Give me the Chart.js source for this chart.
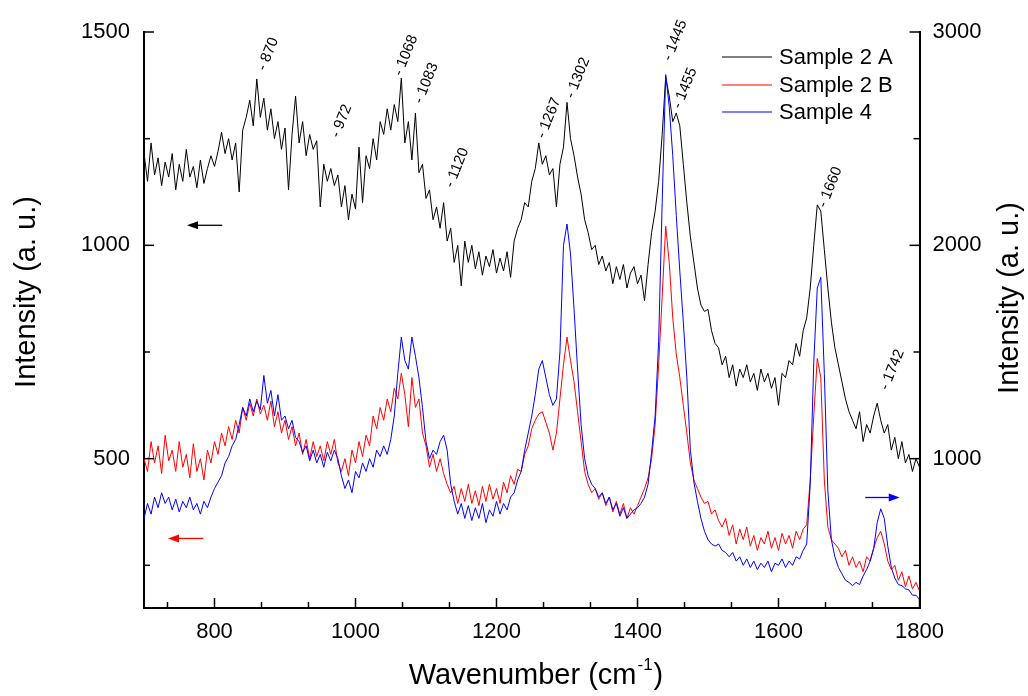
<!DOCTYPE html>
<html>
<head>
<meta charset="utf-8">
<script src="https://cdn.jsdelivr.net/npm/chart.js@4.4.1/dist/chart.umd.min.js"></script>
<style>
  body { margin: 0; background: #fff; }
  canvas { display: block; }
</style>
</head>
<body>
<canvas id="chart" width="1028" height="696" style="width:1028px;height:696px"></canvas>
<script>
// Raman spectra, every 5 cm-1 (700 ... 1800)
var wnStart = 700, wnStep = 5, wnEnd = 1800;

// Sample 2 A (left axis)
var sample2A = [
  1216,1150,1240,1165,1205,1140,1195,1160,1215,1130,
  1190,1150,1225,1160,1185,1135,1200,1145,1180,1210,
  1185,1220,1265,1215,1250,1200,1240,1125,1270,1300,
  1340,1280,1390,1300,1345,1270,1320,1250,1290,1225,
  1275,1130,1260,1350,1240,1290,1210,1260,1225,1245,
  1090,1190,1150,1180,1140,1165,1090,1140,1060,1120,
  1085,1230,1100,1210,1180,1250,1200,1290,1260,1320,
  1270,1330,1290,1392,1240,1290,1200,1310,1170,1190,
  1110,1130,1060,1090,1040,1100,1010,1040,960,1000,
  905,1010,960,1000,945,985,930,975,950,990,
  935,970,940,985,925,1010,1040,1060,1100,1090,
  1150,1180,1240,1190,1210,1165,1180,1090,1190,1230,
  1335,1250,1210,1160,1120,1060,1030,990,1000,955,
  975,940,960,910,950,920,955,900,935,950,
  910,930,870,955,1030,1080,1150,1260,1395,1350,
  1290,1310,1280,1190,1100,1020,960,900,860,845,
  850,800,770,760,720,740,690,720,670,710,
  690,720,680,700,660,710,680,700,665,690,
  625,700,690,730,720,770,740,800,830,900,
  1000,1095,1080,990,900,820,760,720,680,640,
  610,590,570,610,540,580,560,600,630,590,
  560,580,520,550,500,540,490,510,470,500,
  480
];

// Sample 2 B (left axis)
var sample2B = [
  500,470,540,490,530,465,555,495,520,470,
  540,480,510,455,535,470,500,450,520,490,
  540,510,560,530,575,545,590,560,620,590,
  630,600,640,605,625,590,635,575,610,560,
  590,545,575,530,560,510,545,500,540,505,
  530,495,540,510,545,490,470,500,460,520,
  490,540,505,555,530,600,570,620,590,640,
  610,665,640,700,650,575,690,620,640,560,
  530,480,510,470,500,465,440,420,435,395,
  430,400,440,395,425,390,435,400,440,405,
  430,395,445,420,460,440,475,470,510,530,
  570,590,605,610,585,560,520,560,640,720,
  785,730,680,610,540,470,440,420,430,405,
  420,390,410,375,400,370,395,360,385,370,
  390,410,430,455,500,580,720,880,1045,960,
  830,745,690,625,560,490,450,430,410,395,
  400,370,380,355,340,360,320,345,300,335,
  310,340,295,320,285,315,300,330,290,315,
  285,325,300,320,290,330,310,335,345,450,
  600,735,690,450,340,310,300,290,270,285,
  250,270,245,260,235,270,260,290,315,330,
  300,260,240,250,215,235,200,225,195,210,
  190
];

// Sample 4 (right axis)
var sample4 = [
  720,790,740,820,770,840,790,820,760,810,
  750,800,770,820,760,790,740,800,770,820,
  860,890,920,980,1010,1060,1090,1160,1240,1200,
  1280,1220,1270,1230,1390,1260,1320,1200,1300,1180,
  1200,1140,1180,1100,1080,1030,1060,990,1040,980,
  1020,960,1030,990,1040,1000,920,860,900,840,
  940,910,980,940,1000,960,1040,1010,1060,1020,
  1090,1200,1400,1570,1460,1420,1570,1480,1380,1240,
  1080,1000,1040,1020,1080,1110,1040,880,800,740,
  790,720,780,710,770,720,790,700,760,730,
  800,740,790,760,820,840,900,940,1040,1120,
  1200,1300,1420,1460,1380,1300,1250,1280,1500,2000,
  2100,1960,1700,1420,1160,1000,920,880,860,820,
  840,790,820,760,790,730,770,720,740,760,
  770,790,820,880,1030,1200,1550,2200,2800,2650,
  2420,2140,1880,1640,1380,1040,890,800,720,660,
  620,600,590,600,570,560,540,560,520,540,
  500,530,490,520,480,510,490,520,470,510,
  500,530,490,520,500,540,530,570,600,880,
  1450,1800,1850,1400,850,620,540,490,460,430,
  420,405,420,410,450,480,520,580,700,765,
  720,590,490,440,410,405,390,385,360,360,
  340
];

var seriesNames = ['Sample 2 A', 'Sample 2 B', 'Sample 4'];
var seriesColors = ['#000000', '#ff0000', '#0000ff'];

var xTicks = [800, 1000, 1200, 1400, 1600, 1800];
var xMinor = [733.3, 866.7, 933.3, 1066.7, 1133.3, 1266.7, 1333.3, 1466.7, 1533.3, 1666.7, 1733.3];
var yTicks = [500, 1000, 1500];
var yMinor = [250, 750, 1250];
var y2Ticks = [1000, 2000, 3000];
var y2Minor = [500, 1500, 2500];

// peak marks: text, wavenumber and left-axis height of the dash
var peakText = ['870', '972', '1068', '1083', '1120', '1267', '1302', '1445', '1455', '1660', '1742'];
var peakWn   = [867, 971, 1060, 1089, 1133, 1263, 1304, 1442, 1456, 1662, 1750];
var peakVal  = [1411, 1254, 1399, 1334, 1137, 1252, 1346, 1434, 1322, 1090, 662];

var wavenumbers = [];
for (var w = wnStart; w <= wnEnd; w += wnStep) wavenumbers.push(w);

var FONT = "'Liberation Sans', Arial, sans-serif";

function fixTicks(list) {
  return function (scale) { scale.ticks = list.map(function (v) { return { value: v }; }); };
}

var decor = {
  id: 'decor',
  afterDraw: function (chart) {
    var ctx = chart.ctx, a = chart.chartArea;
    var x = chart.scales.x, y = chart.scales.y, y2 = chart.scales.y2;
    ctx.save();
    ctx.strokeStyle = '#000';
    ctx.lineWidth = 1.5;
    function seg(x1, y1, x2, y2_) { ctx.beginPath(); ctx.moveTo(x1, y1); ctx.lineTo(x2, y2_); ctx.stroke(); }
    // inward ticks
    xTicks.forEach(function (v) { var p = x.getPixelForValue(v); seg(p, a.bottom, p, a.bottom - 10); });
    xMinor.forEach(function (v) { var p = x.getPixelForValue(v); seg(p, a.bottom, p, a.bottom - 6); });
    yTicks.forEach(function (v) { var p = y.getPixelForValue(v); seg(a.left, p, a.left + 10, p); });
    yMinor.forEach(function (v) { var p = y.getPixelForValue(v); seg(a.left, p, a.left + 6, p); });
    y2Ticks.forEach(function (v) { var p = y2.getPixelForValue(v); seg(a.right, p, a.right - 10, p); });
    y2Minor.forEach(function (v) { var p = y2.getPixelForValue(v); seg(a.right, p, a.right - 6, p); });

    // peak labels
    ctx.fillStyle = '#000';
    ctx.font = '15px ' + FONT;
    ctx.textAlign = 'left';
    ctx.textBaseline = 'middle';
    peakText.forEach(function (t, i) {
      ctx.save();
      ctx.translate(x.getPixelForValue(peakWn[i]), y.getPixelForValue(peakVal[i]));
      ctx.rotate(-68 * Math.PI / 180);
      ctx.fillText('- ' + t, 0, 0);
      ctx.restore();
    });

    // axis arrows
    function arrow(x1, x2, py, col) {
      ctx.strokeStyle = col; ctx.fillStyle = col; ctx.lineWidth = 1.3;
      var dir = x2 > x1 ? 1 : -1;
      seg(x1, py, x2 - dir * 8, py);
      ctx.beginPath();
      ctx.moveTo(x2, py);
      ctx.lineTo(x2 - dir * 11, py - 4);
      ctx.lineTo(x2 - dir * 11, py + 4);
      ctx.closePath();
      ctx.fill();
    }
    arrow(x.getPixelForValue(811), x.getPixelForValue(761), y.getPixelForValue(1047), '#000');
    arrow(x.getPixelForValue(784), x.getPixelForValue(734), y.getPixelForValue(313), '#ff0000');
    arrow(x.getPixelForValue(1723), x.getPixelForValue(1772), y2.getPixelForValue(818), '#0000ff');

    // legend
    ctx.font = '22px ' + FONT;
    ctx.textBaseline = 'middle';
    var rows = [57, 85, 112];
    seriesNames.forEach(function (n, i) {
      ctx.strokeStyle = seriesColors[i];
      ctx.lineWidth = 1;
      seg(722, rows[i], 772, rows[i]);
      ctx.fillStyle = '#000';
      ctx.fillText(n, 779, rows[i] + 1);
    });

    // axis titles
    ctx.fillStyle = '#000';
    ctx.font = '29px ' + FONT;
    ctx.textAlign = 'center';
    ctx.save();
    ctx.translate(27, 292);
    ctx.rotate(-Math.PI / 2);
    ctx.fillText('Intensity (a. u.)', 0, 0);
    ctx.restore();
    ctx.save();
    ctx.translate(1010, 298);
    ctx.rotate(-Math.PI / 2);
    ctx.fillText('Intensity (a. u.)', 0, 0);
    ctx.restore();

    var main = 'Wavenumber (cm', sup = '-1', close = ')';
    var wMain = ctx.measureText(main).width;
    ctx.font = '17px ' + FONT;
    var wSup = ctx.measureText(sup).width;
    ctx.font = '29px ' + FONT;
    var wClose = ctx.measureText(close).width;
    var sx = 535 - (wMain + wSup + wClose) / 2;
    ctx.textAlign = 'left';
    ctx.textBaseline = 'alphabetic';
    ctx.fillText(main, sx, 684);
    ctx.font = '17px ' + FONT;
    ctx.fillText(sup, sx + wMain + 1, 670);
    ctx.font = '29px ' + FONT;
    ctx.fillText(close, sx + wMain + wSup + 2, 684);
    ctx.restore();
  }
};

function tickOpts(pad) {
  return {
    font: { family: FONT, size: 22 },
    color: '#000',
    padding: pad,
    maxRotation: 0,
    autoSkip: false,
    callback: function (v) { return String(v); }
  };
}

new Chart(document.getElementById('chart'), {
  type: 'line',
  data: {
    labels: wavenumbers,
    datasets: [
      { label: seriesNames[0], data: sample2A, borderColor: seriesColors[0], yAxisID: 'y', order: 3 },
      { label: seriesNames[1], data: sample2B, borderColor: seriesColors[1], yAxisID: 'y', order: 2 },
      { label: seriesNames[2], data: sample4, borderColor: seriesColors[2], yAxisID: 'y2', order: 1 }
    ]
  },
  options: {
    responsive: false,
    animation: false,
    layout: { padding: { top: 32, left: 0, right: 0, bottom: 0 } },
    elements: { point: { radius: 0 }, line: { borderWidth: 1, tension: 0 } },
    plugins: { legend: { display: false }, tooltip: { enabled: false } },
    scales: {
      x: {
        type: 'linear', min: 700, max: 1800,
        afterBuildTicks: fixTicks(xTicks),
        afterFit: function (s) { s.height = 88; },
        grid: { display: false, drawTicks: false },
        border: { display: true, color: '#000', width: 2 },
        ticks: tickOpts(11)
      },
      y: {
        position: 'left', min: 150, max: 1500,
        afterBuildTicks: fixTicks(yTicks),
        afterFit: function (s) { s.width = 144; },
        grid: { display: false, drawTicks: false },
        border: { display: true, color: '#000', width: 2 },
        ticks: tickOpts(14)
      },
      y2: {
        position: 'right', min: 300, max: 3000,
        afterBuildTicks: fixTicks(y2Ticks),
        afterFit: function (s) { s.width = 108.5; },
        grid: { display: false, drawTicks: false },
        border: { display: true, color: '#000', width: 2 },
        ticks: tickOpts(13)
      }
    }
  },
  plugins: [decor]
});
</script>
</body>
</html>
